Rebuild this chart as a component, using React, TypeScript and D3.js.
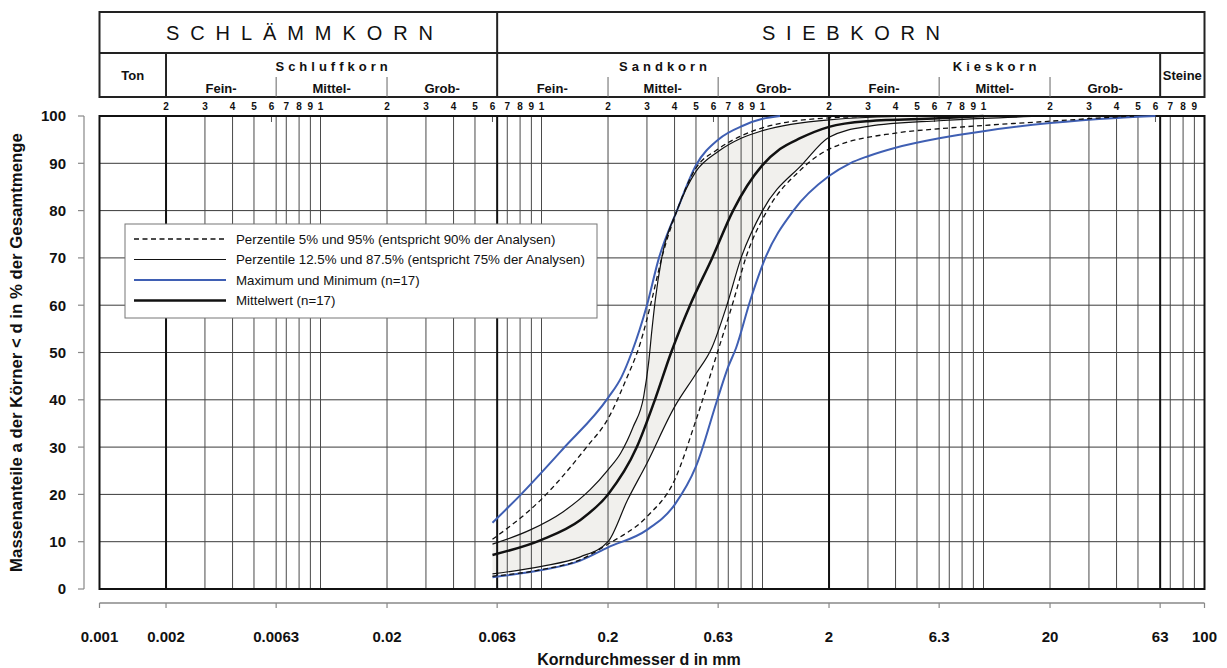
import React from "react";
import * as d3 from "d3";

// ---- data ----
const xTickValues = [0.001, 0.002, 0.0063, 0.02, 0.063, 0.2, 0.63, 2, 6.3, 20, 63, 100];
const xTickLabels = ["0.001", "0.002", "0.0063", "0.02", "0.063", "0.2", "0.63", "2", "6.3", "20", "63", "100"];
const yTickValues = [0, 10, 20, 30, 40, 50, 60, 70, 80, 90, 100];
const decades = [0.001, 0.01, 0.1, 1, 10];
const minorMultipliers = [2, 3, 4, 5, 6, 7, 8, 9, 10];
const gridMultipliers = [2, 3, 4, 5, 6.3, 7, 8, 9, 10];
const thickGrid = [0.002, 0.063, 2, 63];

// curves: grain size d (mm) and percent passing
const maxD = [0.06, 0.08, 0.125, 0.2, 0.23, 0.256, 0.3, 0.34, 0.41, 0.5, 0.63, 0.82, 1.0, 1.2];
const maxP = [14, 19.8, 29.6, 40.4, 44.8, 50, 60, 70, 80, 89.6, 95, 98, 99.4, 100];

const p95D = [0.06, 0.1, 0.16, 0.2, 0.24, 0.28, 0.315, 0.35, 0.41, 0.5, 0.62, 0.82, 1.0, 2, 4];
const p95P = [10.5, 19, 30, 36, 44, 52, 61, 70, 80, 89, 92.8, 96, 97.5, 99.6, 100];

const p875D = [0.06, 0.089, 0.125, 0.166, 0.2, 0.228, 0.26, 0.29, 0.305, 0.316, 0.327, 0.35, 0.41, 0.5, 0.63, 0.8, 1, 2, 5];
const p875P = [9.5, 12.5, 16.3, 21, 25.2, 28.7, 34.3, 40.7, 47.7, 54.8, 61, 70, 80, 88.3, 92.5, 95.3, 96.9, 99.2, 100];

const meanD = [0.06, 0.1, 0.15, 0.2, 0.27, 0.326, 0.386, 0.47, 0.592, 0.736, 0.995, 1.2, 1.48, 2, 3, 6.3, 10];
const meanP = [7.2, 10.4, 14.6, 20, 30, 40, 50, 60, 70, 80, 89.5, 93, 95.3, 97.7, 98.9, 99.5, 100];

const p125D = [0.06, 0.1, 0.15, 0.2, 0.245, 0.3, 0.4, 0.5, 0.59, 0.69, 0.8, 1.0, 1.53, 2, 3, 6.3, 10, 20];
const p125P = [3.2, 4.8, 6.8, 10, 18.8, 26.6, 38.5, 45.5, 51, 60, 70, 80, 90, 95.5, 97.8, 99, 99.5, 100];

const p5D = [0.06, 0.1, 0.15, 0.2, 0.3, 0.4, 0.5, 0.63, 0.74, 0.84, 1.05, 1.48, 2, 4, 6.3, 10, 20, 34, 48];
const p5P = [2.7, 4.1, 6.2, 9.5, 15.3, 23, 35.7, 50.5, 61, 70, 80, 88.5, 93, 96.4, 97.3, 98, 98.9, 99.6, 100];

const minD = [0.06, 0.1, 0.15, 0.2, 0.3, 0.4, 0.5, 0.63, 0.7, 0.76, 0.88, 1.03, 1.38, 2, 2.49, 3, 4, 6.3, 10, 20, 40, 60];
const minP = [2.5, 4, 6, 8.8, 12.5, 17.8, 25.9, 40.6, 47, 51, 61, 70, 80, 87.3, 90, 91.5, 93.3, 95.3, 96.8, 98.5, 99.6, 100];

const legendLabels = [
  "Perzentile 5% und 95% (entspricht 90% der Analysen)",
  "Perzentile 12.5% und 87.5% (entspricht 75% der Analysen)",
  "Maximum und Minimum (n=17)",
  "Mittelwert (n=17)",
];

// header classes
const mainClasses = [
  { label: "SCHLÄMMKORN", from: 0.001, to: 0.063 },
  { label: "SIEBKORN", from: 0.063, to: 100 },
];
const groupClasses = [
  { label: "Schluffkorn", from: 0.002, to: 0.063 },
  { label: "Sandkorn", from: 0.063, to: 2 },
  { label: "Kieskorn", from: 2, to: 63 },
];
const singleClasses = [
  { label: "Ton", from: 0.001, to: 0.002 },
  { label: "Steine", from: 63, to: 100 },
];
const subLabels = ["Fein-", "Mittel-", "Grob-"];

const BLUE = "#3f5fb3";
const FONT = "'Liberation Sans', Arial, Helvetica, sans-serif";

export default function App() {
  const W = 1227;
  const H = 668;
  const xS = d3.scaleLog().domain([0.001, 100]).range([99.5, 1204.5]);
  const yS = d3.scaleLinear().domain([0, 100]).range([589, 116]);
  const [x0, x1] = xS.range();
  const [yb, yt] = yS.range();

  const line = d3
    .line<[number, number]>()
    .x((d) => xS(d[0]))
    .y((d) => yS(d[1]))
    .curve(d3.curveMonotoneX);
  const area = d3
    .area<[number, number]>()
    .x((d) => xS(d[0]))
    .y0(yS(0))
    .y1((d) => yS(d[1]))
    .curve(d3.curveMonotoneX);

  const zip = (a: number[], b: number[]) => a.map((v, i) => [v, b[i]] as [number, number]);
  const maxPts = zip(maxD, maxP);
  const p95Pts = zip(p95D, p95P);
  const p875Pts = zip(p875D, p875P);
  const meanPts = zip(meanD, meanP);
  const p125Pts = zip(p125D, p125P);
  const p5Pts = zip(p5D, p5P);
  const minPts = zip(minD, minP);

  const domMax = xS.domain()[1];
  const fillUpper = [...p875Pts, [domMax, p875P[p875P.length - 1]] as [number, number]];
  const fillLower = [...p125Pts, [domMax, p125P[p125P.length - 1]] as [number, number]];

  const gridVals: number[] = [];
  decades.forEach((dec) =>
    gridMultipliers.forEach((m) => {
      const v = +(dec * m).toPrecision(3);
      if (v < domMax) gridVals.push(v);
    })
  );
  const minorLabels: { v: number; t: string }[] = [];
  decades.forEach((dec) =>
    minorMultipliers.forEach((m) => {
      const v = +(dec * m).toPrecision(3);
      if (v < domMax) minorLabels.push({ v, t: m === 10 ? "1" : String(m) });
    })
  );
  const shortTicks = decades.map((dec) => +(dec * 6).toPrecision(3));

  const hTop = 12;
  const hMid = 53;
  const hBot = 97;

  return (
    <svg
      width={W}
      height={H}
      style={{ position: "absolute", left: 0, top: 0, background: "#fff" }}
      fontFamily={FONT}
    >
      <rect x={0} y={0} width={W} height={H} fill="#fff" />

      {/* header */}
      <g stroke="#222" fill="none">
        <rect x={x0} y={hTop} width={x1 - x0} height={hBot - hTop} strokeWidth={2} />
        <line x1={x0} x2={x1} y1={hMid} y2={hMid} strokeWidth={1.8} />
        <line x1={xS(0.063)} x2={xS(0.063)} y1={hTop} y2={hBot} strokeWidth={2} />
        {[0.002, 2, 63].map((v) => (
          <line key={v} x1={xS(v)} x2={xS(v)} y1={hMid} y2={hBot} strokeWidth={2} />
        ))}
        {[0.0063, 0.02, 0.2, 0.63, 6.3, 20].map((v) => (
          <line key={"s" + v} x1={xS(v)} x2={xS(v)} y1={77} y2={hBot} strokeWidth={1} stroke="#666" />
        ))}
      </g>
      <g fill="#111">
        <text x={166} y={40} fontSize={20} textLength={267} lengthAdjust="spacing">
          {mainClasses[0].label}
        </text>
        <text x={762} y={40} fontSize={20} textLength={178} lengthAdjust="spacing">
          {mainClasses[1].label}
        </text>
        {groupClasses.map((g) => {
          const cx = (xS(g.from) + xS(g.to)) / 2;
          const edges = [xS(g.from), xS(g.from * 3.15), xS(g.from * 10), xS(g.to)];
          return (
            <g key={g.label}>
              <text x={cx + 2} y={71} fontSize={13} fontWeight="bold" letterSpacing={4} textAnchor="middle">
                {g.label}
              </text>
              {subLabels.map((s, i) => (
                <text
                  key={s}
                  x={(edges[i] + edges[i + 1]) / 2}
                  y={93}
                  fontSize={13}
                  fontWeight="bold"
                  textAnchor="middle"
                >
                  {s}
                </text>
              ))}
            </g>
          );
        })}
        {singleClasses.map((c) => (
          <text
            key={c.label}
            x={(xS(c.from) + xS(c.to)) / 2}
            y={80}
            fontSize={13}
            fontWeight="bold"
            textAnchor="middle"
          >
            {c.label}
          </text>
        ))}
        {minorLabels.map((m) => (
          <text key={"ml" + m.v} x={xS(m.v)} y={110} fontSize={10} fontWeight="bold" textAnchor="middle">
            {m.t}
          </text>
        ))}
      </g>

      {/* fill between 12.5 and 87.5 percentiles */}
      <path d={area(fillUpper) || ""} fill="#f1f0ed" />
      <path d={area(fillLower) || ""} fill="#fff" />

      {/* grid */}
      <g>
        {yTickValues.map((v) => (
          <line key={"h" + v} x1={x0} x2={x1} y1={yS(v)} y2={yS(v)} stroke="#3a3a3a" strokeWidth={1} />
        ))}
        {gridVals
          .filter((v) => !thickGrid.includes(v))
          .map((v) => (
            <line key={"v" + v} x1={xS(v)} x2={xS(v)} y1={yt} y2={yb} stroke="#4a4a4a" strokeWidth={1} />
          ))}
        {shortTicks.map((v) => (
          <line key={"st" + v} x1={xS(v)} x2={xS(v)} y1={yt} y2={yt + 6} stroke="#555" strokeWidth={1} />
        ))}
        {thickGrid.map((v) => (
          <line key={"t" + v} x1={xS(v)} x2={xS(v)} y1={yt} y2={yb} stroke="#111" strokeWidth={2} />
        ))}
        <rect x={x0} y={yt} width={x1 - x0} height={yb - yt} fill="none" stroke="#111" strokeWidth={2} />
      </g>

      {/* curves */}
      <g fill="none" strokeLinejoin="round">
        <path d={line(maxPts) || ""} stroke={BLUE} strokeWidth={2} />
        <path d={line(minPts) || ""} stroke={BLUE} strokeWidth={2} />
        <path d={line(p95Pts) || ""} stroke="#111" strokeWidth={1.3} strokeDasharray="5,3.5" />
        <path d={line(p5Pts) || ""} stroke="#111" strokeWidth={1.3} strokeDasharray="5,3.5" />
        <path d={line(p875Pts) || ""} stroke="#111" strokeWidth={1.2} />
        <path d={line(p125Pts) || ""} stroke="#111" strokeWidth={1.2} />
        <path d={line(meanPts) || ""} stroke="#111" strokeWidth={2.5} />
      </g>

      {/* legend */}
      <g>
        <rect x={125} y={224} width={472} height={94} fill="#fff" stroke="#777" strokeWidth={1} />
        {legendLabels.map((l, i) => {
          const y = 239 + i * 20.5;
          const style =
            i === 0
              ? { stroke: "#111", strokeWidth: 1.3, strokeDasharray: "5,3.5" }
              : i === 1
              ? { stroke: "#111", strokeWidth: 1.2 }
              : i === 2
              ? { stroke: BLUE, strokeWidth: 2 }
              : { stroke: "#111", strokeWidth: 2.5 };
          return (
            <g key={l}>
              <line x1={134} x2={226} y1={y} y2={y} {...style} />
              <text x={236} y={y} dy="0.35em" fontSize={13.3} fill="#111">
                {l}
              </text>
            </g>
          );
        })}
      </g>

      {/* y axis */}
      <g>
        <line x1={84} x2={84} y1={yt} y2={yb} stroke="#888" strokeWidth={1.2} />
        {yTickValues.map((v) => (
          <g key={"yt" + v}>
            <line x1={78} x2={84} y1={yS(v)} y2={yS(v)} stroke="#888" strokeWidth={1.2} />
            <text x={66} y={yS(v)} dy="0.36em" textAnchor="end" fontSize={15} fontWeight="bold" fill="#111">
              {v}
            </text>
          </g>
        ))}
        <text
          transform={`translate(22,${(yt + yb) / 2}) rotate(-90)`}
          textAnchor="middle"
          fontSize={16.8}
          fontWeight="bold"
          fill="#111"
        >
          Massenanteile a der Körner &lt; d in % der Gesamtmenge
        </text>
      </g>

      {/* x axis */}
      <g>
        <line x1={x0} x2={x1} y1={603} y2={603} stroke="#888" strokeWidth={1.5} />
        {xTickValues.map((v, i) => (
          <g key={"xt" + v}>
            <line x1={xS(v)} x2={xS(v)} y1={603} y2={608} stroke="#888" strokeWidth={1.2} />
            <text x={xS(v)} y={642} textAnchor="middle" fontSize={15} fontWeight="bold" fill="#111">
              {xTickLabels[i]}
            </text>
          </g>
        ))}
        <text x={639} y={665} textAnchor="middle" fontSize={16} fontWeight="bold" fill="#111">
          Korndurchmesser d in mm
        </text>
      </g>
    </svg>
  );
}
